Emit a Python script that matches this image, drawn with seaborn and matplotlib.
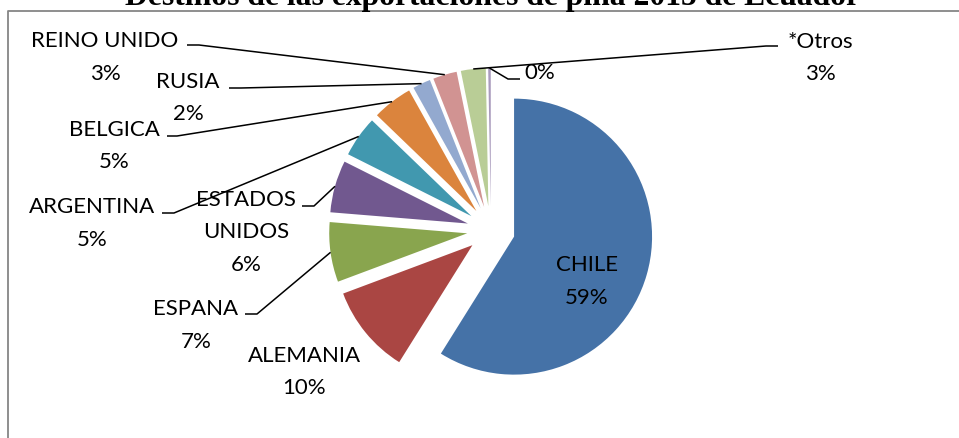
import numpy as np
import matplotlib
matplotlib.use("Agg")
import matplotlib.pyplot as plt
import seaborn as sns

# datos
paises = ["CHILE", "ALEMANIA", "ESPANA", "ESTADOS\nUNIDOS", "ARGENTINA",
          "BELGICA", "RUSIA", "REINO UNIDO", "*Otros", ""]
porcentajes = [58.9, 10.4, 7.0, 6.1, 4.8, 4.7, 2.1, 2.8, 2.9, 0.3]
colores = ["#4572A7", "#AA4643", "#89A54E", "#71588F", "#4198AF",
           "#DB843D", "#93A9CF", "#D19392", "#B9CD96", "#A99BBD"]
titulo = "Destinos de las exportaciones de piña 2015 de Ecuador"

W, H = 959, 439

sns.set_theme(style="white")
plt.rcParams['font.family'] = ['Lato', 'DejaVu Sans']


def py(y):
    # pixel desde arriba -> coordenada de datos
    return H - y


fig = plt.figure(figsize=(W / 100, H / 100), dpi=100)
ax = fig.add_axes([0, 0, 1, 1])

cx, cy, r, sep = 491, 231, 138, 24
wedges, _ = ax.pie(porcentajes, colors=colores, startangle=90, counterclock=False,
                   center=(cx, py(cy)), radius=r, explode=[sep] * len(porcentajes),
                   wedgeprops=dict(linewidth=0), frame=True)
ax.set_xlim(0, W)
ax.set_ylim(0, H)
ax.axis('off')

# posicion de etiquetas (x centro, y primera linea) y lineas guia
pos = [
    (587, 265, None),
    (304, 356, None),
    (196, 309, (245, 315, 257)),
    (246, 200, (302, 207, 314)),
    (92, 207, (162, 214, 174)),
    (114, 130, (167, 137, 177)),
    (188, 82, (229, 89, 241)),
    (105, 41, (187, 46, 199)),
    (820, 42, (778, 47, 766)),
    (540, 73, (520, 80, 508)),
]
fs = 16
for w, nombre, p, (tx, ty, guia) in zip(wedges, paises, porcentajes, pos):
    lineas = [l for l in nombre.split("\n") if l] + ["%d%%" % round(p)]
    for i, l in enumerate(lineas):
        ax.text(tx, py(ty + 32.5 * i), l, ha='center', va='center',
                fontsize=fs, color='black')
    if guia is not None:
        th = np.deg2rad((w.theta1 + w.theta2) / 2)
        ex = w.center[0] + w.r * np.cos(th)
        ey = w.center[1] + w.r * np.sin(th)
        ax.plot([guia[0], guia[2], ex], [py(guia[1]), py(guia[1]), ey],
                color='black', lw=1.1, solid_capstyle='butt')

# borde del area del grafico
ax.plot([8, 8, W], [0, py(12), py(12)], color='#868686', lw=1.3, clip_on=False)

ax.text(492, py(5), titulo, ha='center', va='baseline', fontfamily='Liberation Serif',
        fontweight='bold', fontsize=22.8, color='black', clip_on=False)

fig.savefig("out.png", dpi=100)
